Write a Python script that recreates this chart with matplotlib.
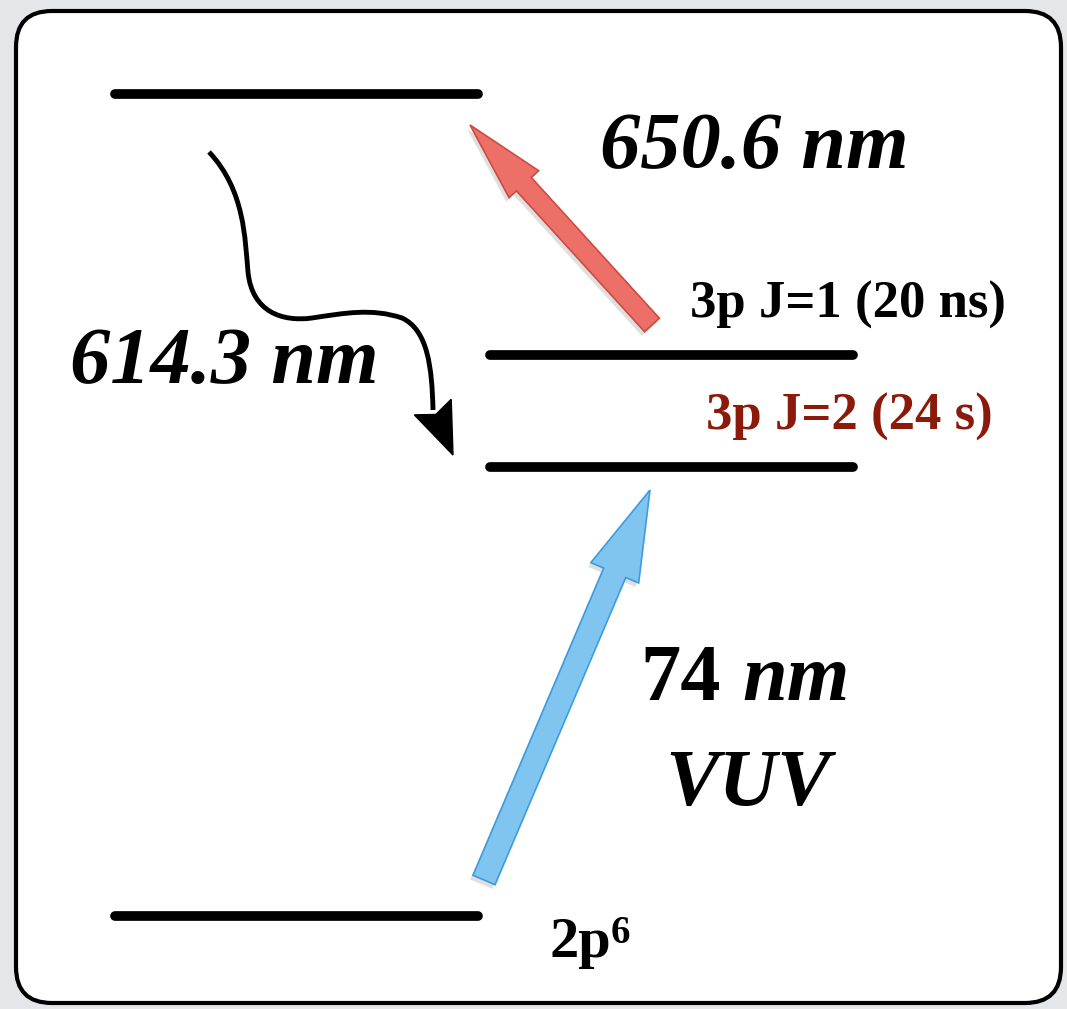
import numpy as np
import matplotlib.pyplot as plt
import matplotlib.patches as mpatches
import matplotlib.patheffects as pe
from matplotlib.path import Path

# energy levels (pixel layout of the diagram, y grows downward)
level_names = ['upper', '3p J=1', '3p J=2', '2p6']
level_y = [94, 355, 467, 916]
level_x0 = [115, 490, 490, 115]
level_x1 = [478, 853, 853, 478]

# transitions: (tail, tip)
red_tail, red_tip = (652, 325), (470, 125)
blue_tail, blue_tip = (484, 880), (650, 490)

SERIF = ['Liberation Serif', 'DejaVu Serif']

fig = plt.figure(figsize=(10.67, 10.09), dpi=100)
fig.patch.set_facecolor('#e4e6e9')
ax = fig.add_axes([0, 0, 1, 1])
ax.set_xlim(0, 1067)
ax.set_ylim(1009, 0)
ax.axis('off')

# rounded frame
frame = mpatches.FancyBboxPatch((16, 11), 1045, 992,
                                boxstyle='round,pad=0,rounding_size=36',
                                fc='white', ec='black', lw=3)
ax.add_patch(frame)

# levels
for y, x0, x1 in zip(level_y, level_x0, level_x1):
    ax.plot([x0, x1], [y, y], color='black', lw=7, solid_capstyle='round')

shadow = [pe.SimplePatchShadow(offset=(-2, -3), shadow_rgbFace='gray', alpha=0.25), pe.Normal()]


def block_arrow(tail, tip, fc, ec, width, head_w, head_l):
    dx, dy = tip[0] - tail[0], tip[1] - tail[1]
    arr = mpatches.FancyArrow(tail[0], tail[1], dx, dy, width=width,
                              head_width=head_w, head_length=head_l,
                              length_includes_head=True, fc=fc, ec=ec, lw=1.2)
    arr.set_path_effects(shadow)
    ax.add_patch(arr)


block_arrow(red_tail, red_tip, '#ec7068', '#cf4a40', 20, 40, 80)
block_arrow(blue_tail, blue_tip, '#80c4f0', '#3b9de0', 24, 52, 90)

# wavy decay arrow
verts = [(209, 152), (245, 190), (245, 240), (248, 272),
         (252, 312), (282, 322), (312, 318),
         (345, 313), (372, 308), (402, 318),
         (428, 330), (432, 368), (433, 410)]
codes = [Path.MOVETO] + [Path.CURVE4] * 12
ax.add_patch(mpatches.PathPatch(Path(verts, codes), fc='none', ec='black', lw=3.5))
tip = np.array([453, 455])
d = np.array([19, 45]) / np.hypot(19, 45)
perp = np.array([d[1], -d[0]])
base = tip - 52 * d
head = [tip, base + 20 * perp, base + 8 * d, base - 20 * perp]
ax.add_patch(mpatches.Polygon(head, closed=True, fc='black', ec='black', lw=1))

# labels
big = dict(family=SERIF, fontsize=58, fontweight='bold', va='baseline', ha='left')
ax.text(600, 168, '650.6 nm', style='italic', **big)
ax.text(70, 383, '614.3 nm', style='italic', **big)
ax.text(640, 700, '74', **big)
ax.text(742, 700, 'nm', style='italic', **big)
ax.text(665, 805, 'VUV', style='italic', **big)

small = dict(family=SERIF, fontsize=38, fontweight='bold', va='baseline', ha='left')
ax.text(690, 318, '3p J=1 (20 ns)', color='black', **small)
ax.text(706, 430, '3p J=2 (24 s)', color='#8b1a0a', **small)
ax.text(550, 957, '2p', color='black', family=SERIF, fontsize=42,
        fontweight='bold', va='baseline', ha='left')
ax.text(611, 943, '6', color='black', family=SERIF, fontsize=28,
        fontweight='bold', va='baseline', ha='left')

fig.savefig('out.png', dpi=100, facecolor=fig.get_facecolor())
